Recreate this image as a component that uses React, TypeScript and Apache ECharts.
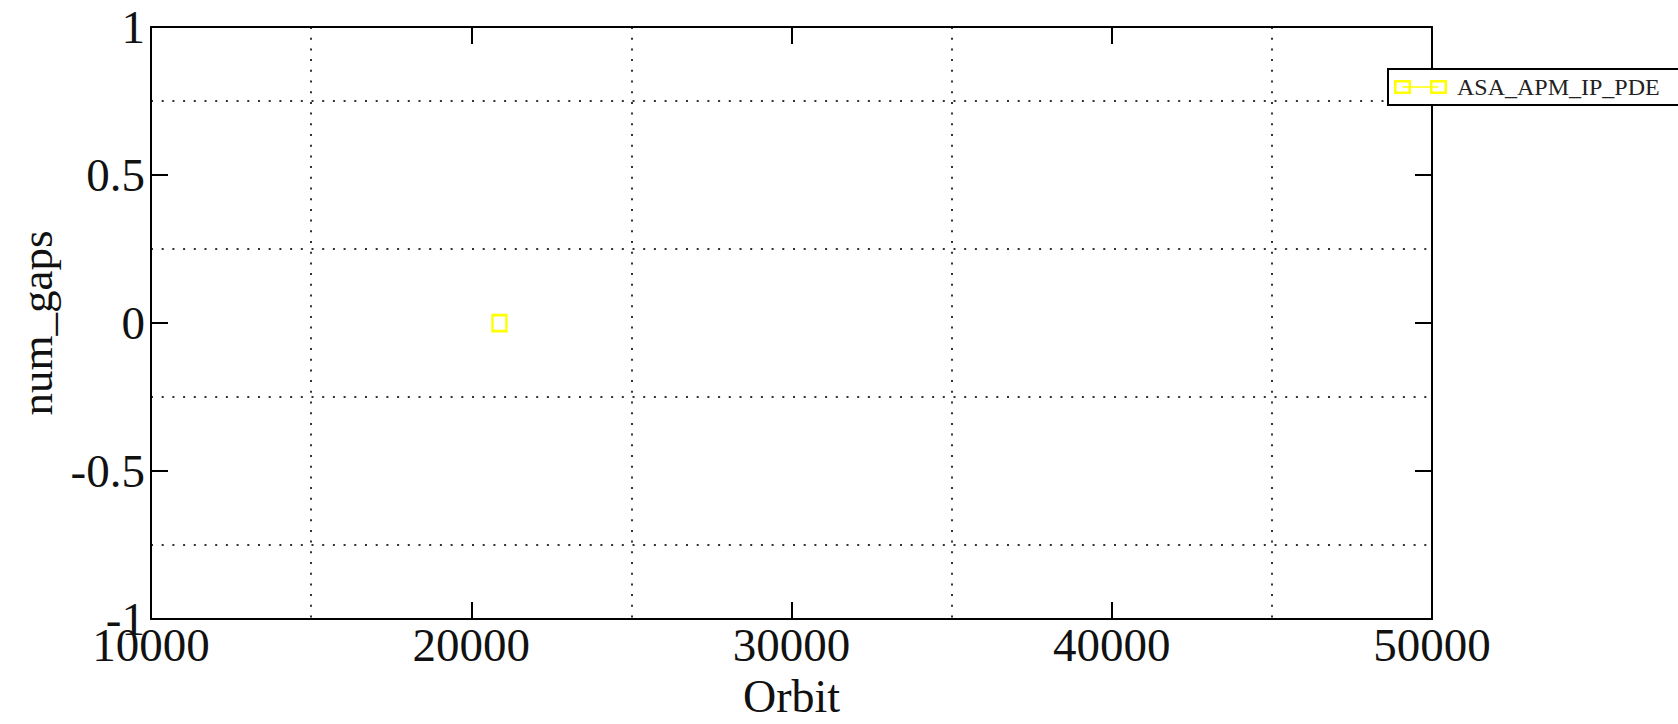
import React, { useEffect, useRef } from "react";
import * as echarts from "echarts";

const seriesName = "ASA_APM_IP_PDE";
const orbitValues = [20880];
const numGaps = [0];
const xTicks = [10000, 20000, 30000, 40000, 50000];
const yTicks = [-1, -0.5, 0, 0.5, 1];

const FONT = "'Liberation Serif', 'Times New Roman', serif";

const legendIcon =
  "path://M0,0 L17,0 L17,14 L0,14 Z M2.5,2.5 L2.5,11.5 L14.5,11.5 L14.5,2.5 Z " +
  "M36,0 L53,0 L53,14 L36,14 Z M38.5,2.5 L38.5,11.5 L50.5,11.5 L50.5,2.5 Z " +
  "M8.5,6.25 L44.5,6.25 L44.5,7.75 L8.5,7.75 Z";

export default function App() {
  const ref = useRef<HTMLDivElement>(null);

  useEffect(() => {
    if (!ref.current) return;
    const chart = echarts.init(ref.current, null, { renderer: "svg" });
    const dotted = { color: "#333", width: 2, type: [2, 8.7] as any };
    const frameLine = { show: true, onZero: false, lineStyle: { color: "#000", width: 2 } };
    const tickStyle = { show: true, inside: true, length: 17, lineStyle: { color: "#000", width: 2 } };
    const xMin = xTicks[0];
    const xMax = xTicks[xTicks.length - 1];
    const yMin = yTicks[0];
    const yMax = yTicks[yTicks.length - 1];
    chart.setOption({
      animation: false,
      backgroundColor: "#fff",
      grid: { left: 151, right: 246, top: 27, bottom: 100, containLabel: false },
      legend: {
        show: true,
        data: [seriesName],
        left: 1388,
        top: 69,
        orient: "vertical",
        icon: legendIcon,
        itemWidth: 53,
        itemHeight: 14,
        padding: [6, 22, 6, 6],
        backgroundColor: "#fff",
        borderColor: "#000",
        borderWidth: 2,
        borderRadius: 0,
        itemStyle: { color: "#ffff00", borderWidth: 0 },
        textStyle: { fontFamily: FONT, fontSize: 24, color: "#222", padding: [0, 0, 0, 5] },
        z: 10,
      },
      xAxis: [
        {
          type: "value",
          min: xMin,
          max: xMax,
          interval: 10000,
          name: "Orbit",
          nameLocation: "middle",
          nameGap: 52,
          nameTextStyle: { fontFamily: FONT, fontSize: 46, color: "#111" },
          axisLine: frameLine,
          axisTick: tickStyle,
          axisLabel: {
            fontFamily: FONT,
            fontSize: 47,
            color: "#111",
            margin: 2,
            showMinLabel: true,
            showMaxLabel: true,
            formatter: (v: number) => String(v),
          },
          splitLine: { show: false },
          minorTick: { show: false, splitNumber: 2 },
          minorSplitLine: { show: true, lineStyle: dotted },
        },
        {
          type: "value",
          position: "top",
          min: xMin,
          max: xMax,
          interval: 10000,
          axisLine: frameLine,
          axisTick: tickStyle,
          axisLabel: { show: false },
          splitLine: { show: false },
        },
      ],
      yAxis: [
        {
          type: "value",
          min: yMin,
          max: yMax,
          interval: 0.5,
          name: "num_gaps",
          nameLocation: "middle",
          nameGap: 88,
          nameTextStyle: { fontFamily: FONT, fontSize: 45, color: "#111" },
          axisLine: frameLine,
          axisTick: tickStyle,
          axisLabel: { fontFamily: FONT, fontSize: 47, color: "#111", margin: 6, formatter: (v: number) => String(v) },
          splitLine: { show: false },
          minorTick: { show: false, splitNumber: 2 },
          minorSplitLine: { show: true, lineStyle: dotted },
        },
        {
          type: "value",
          position: "right",
          min: yMin,
          max: yMax,
          interval: 0.5,
          axisLine: frameLine,
          axisTick: tickStyle,
          axisLabel: { show: false },
          splitLine: { show: false },
        },
      ],
      series: [
        {
          name: seriesName,
          type: "line",
          xAxisIndex: 0,
          yAxisIndex: 0,
          data: orbitValues.map((x, i) => [x, numGaps[i]]),
          symbol: "rect",
          symbolSize: [14, 16],
          showSymbol: true,
          itemStyle: { color: "#fff", borderColor: "#ffff00", borderWidth: 2.5 },
          lineStyle: { color: "#ffff00", width: 2 },
          z: 5,
        },
      ],
    });
    return () => chart.dispose();
  }, []);

  return (
    <div
      ref={ref}
      style={{ position: "absolute", left: 0, top: 0, width: 1678, height: 724 }}
    />
  );
}
